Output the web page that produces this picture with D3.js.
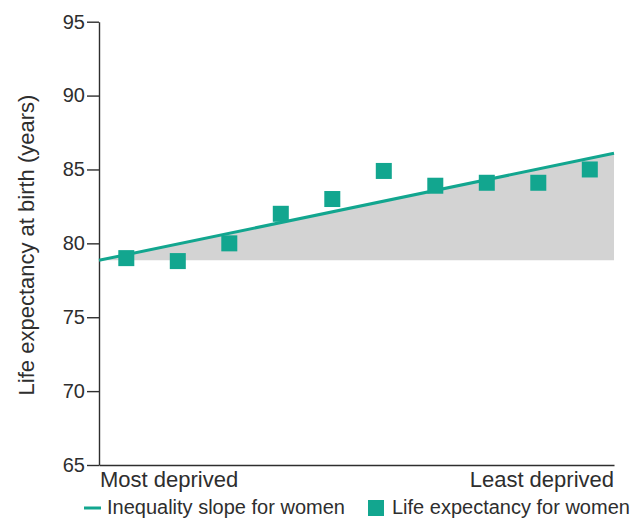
<!DOCTYPE html>
<html>
<head>
<meta charset="utf-8">
<script src="https://cdn.jsdelivr.net/npm/d3@7"></script>
<style>
  html, body { margin: 0; padding: 0; background: #fff; }
  svg { display: block; font-family: "Liberation Sans", Arial, sans-serif; }
</style>
</head>
<body>
<svg id="chart" width="642" height="518"></svg>
<script>
// ---- data ----
const deciles = [1, 2, 3, 4, 5, 6, 7, 8, 9, 10];
const lifeExpectancy = [79.0, 78.8, 80.0, 82.0, 83.0, 84.9, 83.9, 84.1, 84.1, 85.0];
const slopeEnds = [78.85, 86.1];           // inequality slope at most / least deprived ends
const yTicks = [65, 70, 75, 80, 85, 90, 95];
const xEndLabels = ["Most deprived", "Least deprived"];
const legendLabels = ["Inequality slope for women", "Life expectancy for women"];

// ---- layout ----
const teal = "#12a68f";
const ink = "#2e2e2e";
const plotLeft = 99, plotRight = 614, plotTop = 21.7, plotBottom = 465;
const pointOffset = 0.53;

const svg = d3.select("#chart");

const x = d3.scaleLinear().domain([0, deciles.length]).range([plotLeft, plotRight]);
const y = d3.scaleLinear().domain([65, 95]).range([plotBottom, plotTop]);

// shaded triangle under slope
const slopePts = [[0, slopeEnds[0]], [deciles.length, slopeEnds[1]]];
svg.append("path")
  .datum(slopePts)
  .attr("fill", "#d3d3d3")
  .attr("d", d3.area()
    .x(d => x(d[0]))
    .y0(y(slopeEnds[0]))
    .y1(d => y(d[1])));

// y axis
const yAxis = svg.append("g")
  .attr("transform", `translate(${plotLeft},0)`)
  .call(d3.axisLeft(y).tickValues(yTicks).tickSize(12).tickSizeOuter(0).tickPadding(2));
yAxis.selectAll("path, line").attr("stroke", ink).attr("stroke-width", 1.4);
yAxis.selectAll("text").attr("fill", ink).style("font-size", "20px")
  .attr("font-family", "Liberation Sans, Arial, sans-serif");

// x axis (no ticks)
const xAxis = svg.append("g")
  .attr("transform", `translate(0,${plotBottom})`)
  .call(d3.axisBottom(x).tickValues([]).tickSizeOuter(0));
xAxis.selectAll("path").attr("stroke", ink).attr("stroke-width", 1.4);

// slope line
svg.append("path")
  .datum(slopePts)
  .attr("fill", "none")
  .attr("stroke", teal)
  .attr("stroke-width", 3)
  .attr("d", d3.line().x(d => x(d[0])).y(d => y(d[1])));

// points (squares)
const sq = 16;
svg.append("g").selectAll("rect")
  .data(lifeExpectancy)
  .join("rect")
  .attr("x", (d, i) => x(i + pointOffset) - sq / 2)
  .attr("y", d => y(d) - sq / 2)
  .attr("width", sq)
  .attr("height", sq)
  .attr("fill", teal);

// y axis title
svg.append("text")
  .attr("transform", `translate(34,245) rotate(-90)`)
  .attr("text-anchor", "middle")
  .attr("fill", ink)
  .style("font-size", "22px")
  .text("Life expectancy at birth (years)");

// x end labels
svg.append("text")
  .attr("x", plotLeft + 1).attr("y", 487)
  .attr("fill", ink).style("font-size", "22px")
  .text(xEndLabels[0]);
svg.append("text")
  .attr("x", plotRight).attr("y", 487)
  .attr("text-anchor", "end")
  .attr("fill", ink).style("font-size", "22px")
  .text(xEndLabels[1]);

// legend
const lg = svg.append("g");
lg.append("line")
  .attr("x1", 84).attr("x2", 101).attr("y1", 508).attr("y2", 508)
  .attr("stroke", teal).attr("stroke-width", 3);
lg.append("text")
  .attr("x", 107).attr("y", 514)
  .attr("fill", ink).style("font-size", "20px")
  .text(legendLabels[0]);
lg.append("rect")
  .attr("x", 368).attr("y", 500).attr("width", 16).attr("height", 16)
  .attr("fill", teal);
lg.append("text")
  .attr("x", 392).attr("y", 514)
  .attr("fill", ink).style("font-size", "20px")
  .text(legendLabels[1]);
</script>
</body>
</html>
